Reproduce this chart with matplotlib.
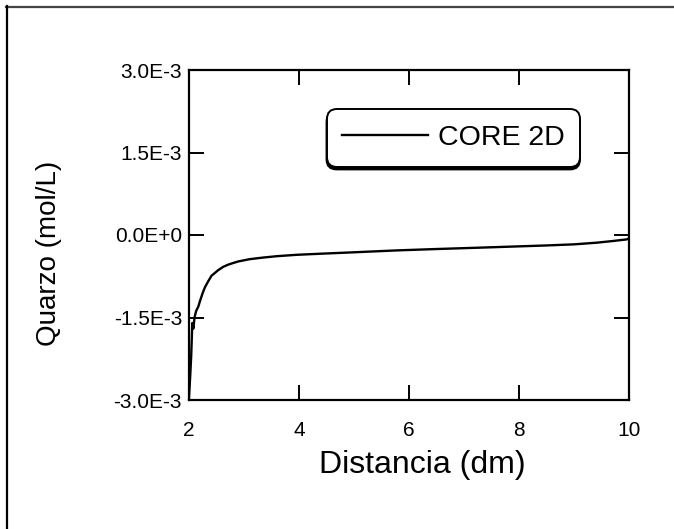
import matplotlib
matplotlib.use("Agg")
import matplotlib.pyplot as plt
from matplotlib.lines import Line2D

plt.rcParams['font.family'] = ['Liberation Sans', 'DejaVu Sans']

# Data
distancia = [2.0, 2.02, 2.04, 2.06, 2.08, 2.1, 2.13, 2.17, 2.2, 2.25, 2.29, 2.35, 2.41, 2.47,
             2.53, 2.62, 2.71, 2.8, 2.9, 3.1, 3.35, 3.6, 3.96, 4.4, 4.87, 5.78, 6.5, 7.29,
             8.5, 9.0, 9.41, 9.7, 9.96, 10.0]
quarzo_e3 = [-2.95, -2.6, -2.2, -1.6, -1.7, -1.5, -1.38, -1.3, -1.2, -1.05, -0.95, -0.84,
             -0.74, -0.69, -0.64, -0.58, -0.54, -0.51, -0.48, -0.44, -0.41, -0.385, -0.36,
             -0.34, -0.32, -0.28, -0.255, -0.23, -0.19, -0.17, -0.14, -0.11, -0.08, -0.06]
quarzo = [v * 1e-3 for v in quarzo_e3]
series_label = "CORE 2D"
xticks = [2, 4, 6, 8, 10]
yticks = [-3.0e-3, -1.5e-3, 0.0, 1.5e-3, 3.0e-3]
ytick_labels = ["-3.0E-3", "-1.5E-3", "0.0E+0", "1.5E-3", "3.0E-3"]

W, H = 674, 529
fig = plt.figure(figsize=(W / 100, H / 100), dpi=100)
ax = fig.add_axes([189 / W, 1 - 400 / H, 440 / W, 330 / H])

ax.plot(distancia, quarzo, color='black', lw=1.7, label=series_label)
ax.set_xlim(2, 10)
ax.set_ylim(-3.0e-3, 3.0e-3)
ax.set_xticks(xticks)
ax.set_yticks(yticks)
ax.set_yticklabels(ytick_labels)

for s in ax.spines.values():
    s.set_linewidth(1.6)
ax.tick_params(direction='in', length=11, width=1.4, top=True, right=True,
               labelsize=15)
ax.tick_params(axis='x', pad=15)
ax.tick_params(axis='y', pad=5)

ax.set_xlabel("Distancia (dm)", fontsize=23)
ax.set_ylabel("Quarzo (mol/L)", fontsize=20)
ax.xaxis.set_label_coords(0.53, -0.15)
ax.yaxis.set_label_coords(-0.288, 0.445)

leg = ax.legend(loc='upper left', bbox_to_anchor=(0.332, 0.855), borderaxespad=0,
                fontsize=20.5, handlelength=3.0, handletextpad=0.35, borderpad=0.25,
                fancybox=True, shadow={'color': 'black', 'alpha': 1.0, 'ox': 0, 'oy': -2},
                framealpha=1, edgecolor='black')
leg.get_frame().set_linewidth(1.4)
leg.get_frame().set_boxstyle('round', pad=0.3, rounding_size=0.35)

# partial outer border (top and left)
fig.add_artist(Line2D([6 / W, 1.0], [1 - 6.5 / H, 1 - 6.5 / H], transform=fig.transFigure,
                      color='#444444', lw=1.6))
fig.add_artist(Line2D([6.5 / W, 6.5 / W], [0, 1 - 6 / H], transform=fig.transFigure,
                      color='black', lw=1.6))

fig.savefig("out.png", dpi=100)
